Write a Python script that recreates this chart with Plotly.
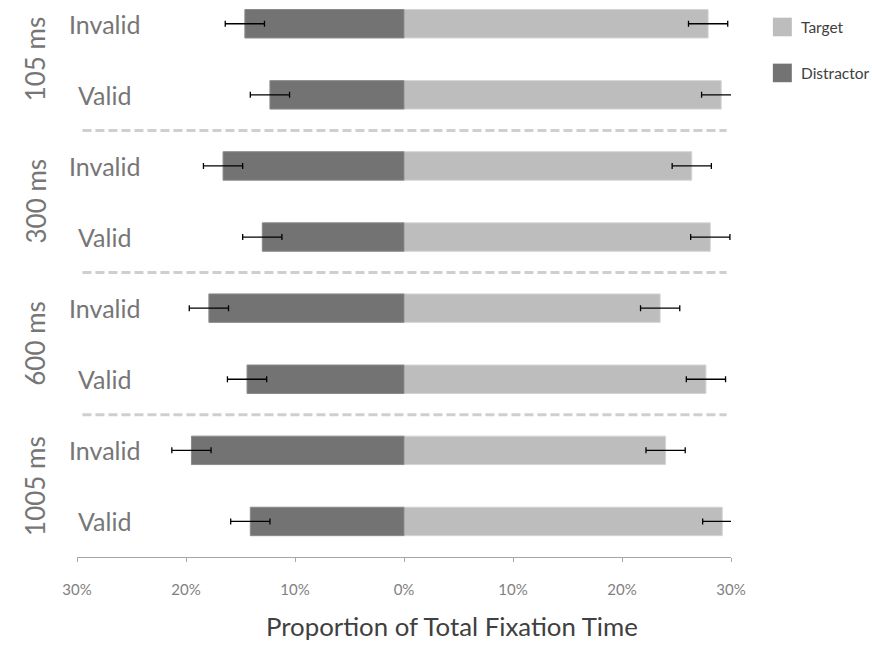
import plotly.graph_objects as go

# Delays (SOA) and cue conditions, top to bottom
delays = ["105 ms", "300 ms", "600 ms", "1005 ms"]
cues = ["Invalid", "Valid"]

# Proportion of total fixation time (%) per delay x cue, in display order
target = [27.9, 29.1, 26.4, 28.1, 23.5, 27.7, 24.0, 29.2]
distractor = [14.6, 12.3, 16.6, 13.0, 17.9, 14.4, 19.5, 14.1]
target_err = [1.8, 1.8, 1.8, 1.8, 1.8, 1.8, 1.8, 1.8]
distractor_err = [1.8, 1.8, 1.8, 1.8, 1.8, 1.8, 1.8, 1.8]

tick_vals = [-30, -20, -10, 0, 10, 20, 30]
tick_text = ["30%", "20%", "10%", "0%", "10%", "20%", "30%"]

FONT = "Lato"
LABEL_GREY = "#767676"
TARGET_COL = "#bdbdbd"
DISTRACTOR_COL = "#737373"

rows = [f"{d}|{c}" for d in delays for c in cues]
ypos = list(range(len(rows)))

fig = go.Figure()

fig.add_trace(go.Bar(
    y=ypos, x=target, orientation="h", name="Target",
    width=0.4, marker=dict(color=TARGET_COL, line=dict(color="#d4d4d4", width=1)),
    error_x=dict(type="data", array=target_err, color="black", thickness=1.3, width=3),
    showlegend=False,
))
fig.add_trace(go.Bar(
    y=ypos, x=[-v for v in distractor], orientation="h", name="Distractor",
    width=0.4, marker=dict(color=DISTRACTOR_COL, line=dict(color="#8a8a8a", width=1)),
    error_x=dict(type="data", array=distractor_err, color="black", thickness=1.3, width=3),
    showlegend=False,
))

annotations = []
shapes = []

# Cue labels beside each bar
for i, r in enumerate(rows):
    cue = r.split("|")[1]
    annotations.append(dict(
        x=0.0413, xref="paper", y=i, yref="y", text=cue, showarrow=False,
        xanchor="center", yanchor="middle",
        font=dict(family=FONT, size=25, color=LABEL_GREY),
    ))

# Delay labels, rotated, centred on their pair of rows
n_cues = len(cues)
for g, d in enumerate(delays):
    yc = g * n_cues + (n_cues - 1) / 2
    annotations.append(dict(
        x=-0.0642, xref="paper", y=yc, yref="y", text=d, showarrow=False,
        textangle=-90, xanchor="center", yanchor="middle",
        font=dict(family=FONT, size=26, color=LABEL_GREY),
    ))
    # dashed separator between delay groups
    if g < len(delays) - 1:
        ys = (g + 1) * n_cues - 0.5
        shapes.append(dict(
            type="line", xref="x", yref="y", x0=-29.5, x1=29.6, y0=ys, y1=ys,
            line=dict(color="#cfcfcf", width=3, dash="9px,4px"),
        ))

# Legend drawn as swatches + labels
legend_items = [("Target", TARGET_COL, 27), ("Distractor", DISTRACTOR_COL, 73)]
plot_h = 557.5
for name, col, ypx in legend_items:
    yc = 1 - ypx / plot_h
    half = 9.3 / plot_h
    shapes.append(dict(
        type="rect", xref="paper", yref="paper",
        x0=1.064, x1=1.093, y0=yc - half, y1=yc + half,
        fillcolor=col, line=dict(width=0),
    ))
    annotations.append(dict(
        x=1.104, xref="paper", y=yc, yref="paper", text=name, showarrow=False,
        xanchor="left", yanchor="middle",
        font=dict(family=FONT, size=15.5, color="#404040"),
    ))

# Axis title
annotations.append(dict(
    x=0.574, xref="paper", y=1 - 627 / plot_h, yref="paper",
    text="Proportion of Total Fixation Time", showarrow=False,
    xanchor="center", yanchor="middle",
    font=dict(family=FONT, size=25.8, color="#404040"),
))

fig.update_layout(
    width=872, height=645,
    margin=dict(l=77, r=141, t=0, b=87.5),
    paper_bgcolor="white", plot_bgcolor="white",
    barmode="overlay",
    annotations=annotations, shapes=shapes,
    xaxis=dict(
        range=[-30, 30], tickvals=tick_vals, ticktext=tick_text,
        showgrid=False, zeroline=False,
        showline=True, linecolor="#a6a6a6", linewidth=1.3,
        ticks="outside", ticklen=4, tickcolor="#a6a6a6", tickwidth=1.3,
        tickfont=dict(family=FONT, size=15, color="#7f7f7f"),
        ticklabelstandoff=15,
    ),
    yaxis=dict(
        range=[len(rows) - 0.5, -0.334], showgrid=False, zeroline=False,
        showline=False, showticklabels=False, ticks="",
    ),
)

fig.write_html("out.html")
